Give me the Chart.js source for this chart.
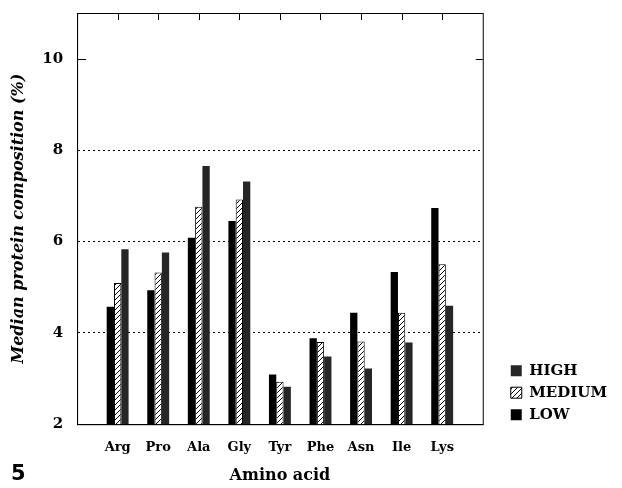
<!DOCTYPE html>
<html>
<head>
<meta charset="utf-8">
<script src="https://cdn.jsdelivr.net/npm/chart.js@4/dist/chart.umd.min.js"></script>
<style>
body { margin: 0; background: #fff; }
#wrap { position: relative; width: 622px; height: 488px; }
#panel { position: absolute; left: 11px; top: 461px; font: bold 21px "DejaVu Sans", sans-serif; color: #000; }
</style>
</head>
<body>
<div id="wrap">
  <canvas id="chart" width="622" height="488"></canvas>
  <div id="panel">5</div>
</div>
<script>
// amino acids, left to right
const categories = ["Arg", "Pro", "Ala", "Gly", "Tyr", "Phe", "Asn", "Ile", "Lys"];

// median protein composition (%) per expression group
const low = [4.57, 4.93, 6.08, 6.45, 3.09, 3.88, 4.44, 5.33, 6.73];
const medium = [5.09, 5.32, 6.76, 6.92, 2.93, 3.80, 3.81, 4.44, 5.50];
const high = [5.83, 5.76, 7.65, 7.31, 2.82, 3.48, 3.22, 3.79, 4.59];

const yTicks = [2, 4, 6, 8, 10];
const dottedAt = [4, 6, 8];

// hatch pattern for MEDIUM
const hatch = (() => {
	const c = document.createElement("canvas");
	c.width = 5;
	c.height = 5;
	const g = c.getContext("2d");
	g.fillStyle = "#fff";
	g.fillRect(0, 0, 5, 5);
	g.strokeStyle = "#000";
	g.lineWidth = 1;
	g.beginPath();
	g.moveTo(-1, 6);
	g.lineTo(6, -1);
	g.stroke();
	return g.createPattern(c, "repeat");
})();

// empty slot at each end so the frame sits one step away from the outer groups
const pad = (arr) => [null, ...arr, null];

// frame, inward ticks on top, and the 10 tick on both sides
const framePlugin = {
	id: "frame",
	afterLayout(chart) {
		// push the legend a bit away from the plot
		const lg = chart.legend;
		lg.left += 21;
		lg.right += 21;
		lg.top += 5;
		lg.bottom += 5;
	},
	afterDraw(chart) {
		const {ctx, chartArea: a, scales} = chart;
		ctx.save();
		ctx.strokeStyle = "#000";
		ctx.lineWidth = 1;
		ctx.strokeRect(a.left + 0.5, a.top + 0.5, a.right - a.left, a.bottom - a.top);
		ctx.beginPath();
		categories.forEach((c, i) => {
			const px = Math.round(scales.x.getPixelForValue(i + 1)) + 0.5;
			ctx.moveTo(px, a.top);
			ctx.lineTo(px, a.top + 7);
		});
		const py = Math.round(scales.y.getPixelForValue(10)) + 0.5;
		ctx.moveTo(a.left, py);
		ctx.lineTo(a.left + 9, py);
		ctx.moveTo(a.right, py);
		ctx.lineTo(a.right - 7, py);
		ctx.stroke();
		ctx.restore();
	}
};

const serif = "'DejaVu Serif', serif";

new Chart(document.getElementById("chart"), {
	type: "bar",
	data: {
		labels: pad(categories).map((c) => c || ""),
		datasets: [
			{label: "LOW", data: pad(low), backgroundColor: "#000", borderWidth: 0},
			{label: "MEDIUM", data: pad(medium), backgroundColor: hatch, borderColor: "#000", borderWidth: 1},
			{label: "HIGH", data: pad(high), backgroundColor: "#262626", borderWidth: 0}
		]
	},
	options: {
		responsive: false,
		animation: false,
		layout: {padding: {left: 9, top: 13, right: 26, bottom: 3}},
		datasets: {bar: {categoryPercentage: 0.54, barPercentage: 1}},
		plugins: {
			tooltip: {enabled: false},
			legend: {
				position: "right",
				align: "end",
				fullSize: false,
				reverse: true,
				labels: {
					boxWidth: 11,
					boxHeight: 11,
					padding: 7,
					color: "#000",
					font: {family: serif, size: 15, weight: "bold"}
				}
			}
		},
		scales: {
			x: {
				offset: false,
				grid: {display: false},
				border: {color: "#000"},
				ticks: {
					autoSkip: false,
					maxRotation: 0,
					color: "#000",
					padding: 8,
					font: {family: serif, size: 13, weight: "bold"}
				},
				title: {
					display: true,
					text: "Amino acid",
					color: "#000",
					padding: {top: 2, bottom: 0},
					font: {family: serif, size: 16, weight: "bold"}
				}
			},
			y: {
				min: 2,
				max: 11,
				border: {color: "#000", dash: [2, 3]},
				grid: {
					drawTicks: false,
					color: (ctx) => (dottedAt.includes(ctx.tick.value) ? "#000" : "rgba(0,0,0,0)")
				},
				afterFit: (scale) => {
					scale.paddingTop = 0;
				},
				ticks: {
					stepSize: 2,
					padding: 14,
					color: "#000",
					font: {family: serif, size: 15, weight: "bold"},
					callback: (v) => (yTicks.includes(v) ? v : "")
				},
				title: {
					display: true,
					text: "Median protein composition (%)",
					color: "#000",
					padding: {top: 0, bottom: 0},
					font: {family: serif, size: 16, weight: "bold", style: "italic"}
				}
			}
		}
	},
	plugins: [framePlugin]
});
</script>
</body>
</html>
